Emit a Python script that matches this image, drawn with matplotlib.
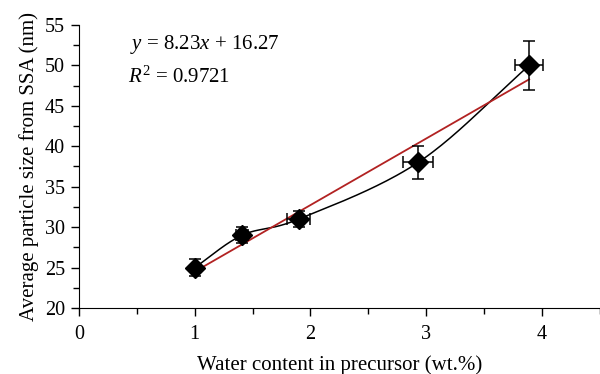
import numpy as np
import matplotlib.pyplot as plt

plt.rcParams['font.family'] = ['Liberation Serif', 'DejaVu Serif']
plt.rcParams['mathtext.fontset'] = 'custom'
plt.rcParams['mathtext.rm'] = 'Liberation Serif'
plt.rcParams['mathtext.it'] = 'Liberation Serif:italic'

# data
water = [1.0, 1.41, 1.9, 2.93, 3.89]
size = [25, 29, 31, 38, 50]
size_err = [1, 1, 1, 2, 3]
water_err = [0.0, 0.05, 0.1, 0.13, 0.12]
slope = 8.23
intercept = 16.27


def smooth(x, y, n=40):
    # catmull-rom style smoothing like a spreadsheet "smoothed line"
    x = np.asarray(x, float)
    y = np.asarray(y, float)
    px = np.concatenate([[2 * x[0] - x[1]], x, [2 * x[-1] - x[-2]]])
    py = np.concatenate([[2 * y[0] - y[1]], y, [2 * y[-1] - y[-2]]])
    xs, ys = [], []
    t = np.linspace(0, 1, n)
    for i in range(1, len(px) - 2):
        for p, out in ((px, xs), (py, ys)):
            p0, p1, p2, p3 = p[i - 1], p[i], p[i + 1], p[i + 2]
            out.extend(0.5 * ((2 * p1) + (-p0 + p2) * t
                              + (2 * p0 - 5 * p1 + 4 * p2 - p3) * t ** 2
                              + (-p0 + 3 * p1 - 3 * p2 + p3) * t ** 3))
    return xs, ys


fig = plt.figure(figsize=(6, 3.74), dpi=100)
ax = fig.add_axes([0.1317, 0.1765, 0.868, 0.7567])

sx, sy = smooth(water, size)
ax.plot(sx, sy, color='black', lw=1.1, zorder=2)

fx = np.array([water[0], water[-1]])
ax.plot(fx, slope * fx + intercept, color='#b22222', lw=1.3, zorder=3)

ax.errorbar(water, size, yerr=size_err, xerr=water_err, fmt='D', color='black',
            markersize=10, ecolor='black', elinewidth=1.1, capsize=4, capthick=1.1,
            zorder=4)

ax.set_xlim(0, 4.49)
ax.set_ylim(20, 55)
ax.set_xticks([0, 1, 2, 3, 4])
ax.set_xticks([0.5, 1.5, 2.5, 3.5, 4.5], minor=True)
ax.set_yticks(range(20, 56, 5))
ax.set_yticks(np.arange(22.5, 55, 5), minor=True)
ax.spines['top'].set_visible(False)
ax.spines['right'].set_visible(False)
ax.tick_params(which='major', direction='out', length=6, labelsize=14.5, width=1)
ax.tick_params(which='minor', direction='out', length=4, width=1)
ax.tick_params(axis='x', pad=6)
ax.tick_params(axis='y', pad=4)

ax.set_xlabel('Water content in precursor (wt.%)', fontsize=15, labelpad=8)
ax.set_ylabel('Average particle size from SSA (nm)', fontsize=15, labelpad=4)

ax.text(0.098, 0.93, r'$y$ = 8.23$x$ + 16.27', transform=ax.transAxes, fontsize=15,
        va='center')
ax.text(0.095, 0.815, r'$R^2$ = 0.9721', transform=ax.transAxes, fontsize=15,
        va='center')

fig.savefig('out.png', dpi=100)
